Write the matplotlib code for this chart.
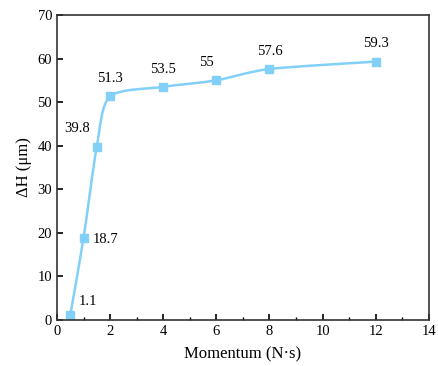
import numpy as np
import matplotlib.pyplot as plt
from matplotlib.path import Path
from matplotlib.patches import PathPatch
from matplotlib.ticker import MultipleLocator

momentum = [0.5, 1, 1.5, 2, 4, 6, 8, 12]
dh = [1.1, 18.7, 39.8, 51.3, 53.5, 55, 57.6, 59.3]
labels = ["1.1", "18.7", "39.8", "51.3", "53.5", "55", "57.6", "59.3"]
offsets = [(13, 5), (16, -1), (-14, 8), (0, 8), (0, 8), (-7, 8), (0, 8), (0, 8)]

plt.rcParams['font.family'] = ['Liberation Serif', 'DejaVu Serif']
color = '#82d0f7'

fig = plt.figure(figsize=(4.38, 3.66), dpi=100)
ax = fig.add_axes([0.130, 0.126, 0.849, 0.833])

# smooth curve through the points (Catmull-Rom as cubic Bezier)
x = np.array(momentum, float)
y = np.array(dh, float)
verts = [(x[0], y[0])]
codes = [Path.MOVETO]
for i in range(len(x) - 1):
    p0 = np.array([x[max(i - 1, 0)], y[max(i - 1, 0)]])
    p1 = np.array([x[i], y[i]])
    p2 = np.array([x[i + 1], y[i + 1]])
    p3 = np.array([x[min(i + 2, len(x) - 1)], y[min(i + 2, len(x) - 1)]])
    c1 = p1 + (p2 - p0) / 6 * 0.8
    c2 = p2 - (p3 - p1) / 6 * 0.8
    verts += [tuple(c1), tuple(c2), tuple(p2)]
    codes += [Path.CURVE4] * 3
ax.add_patch(PathPatch(Path(verts, codes), fill=False, edgecolor=color, lw=1.8))
ax.plot(momentum, dh, ls='none', marker='s', ms=5.5, color=color)

for xi, yi, lab, off in zip(momentum, dh, labels, offsets):
    ax.annotate(lab, (xi, yi), xytext=off, textcoords='offset points',
                ha='center', va='bottom' if off[1] > 2 else 'center', fontsize=10.5)

ax.set_xlim(0, 14)
ax.set_ylim(0, 70)
ax.xaxis.set_major_locator(MultipleLocator(2))
ax.xaxis.set_minor_locator(MultipleLocator(1))
ax.yaxis.set_major_locator(MultipleLocator(10))
ax.tick_params(direction='in', labelsize=10.5, length=4, width=1.2)
ax.tick_params(which='minor', direction='in', length=2.5, width=1)
ax.set_xlabel("Momentum (N·s)", fontsize=12, labelpad=6)
ax.set_ylabel("ΔH (μm)", fontsize=12)
for s in ax.spines.values():
    s.set_linewidth(1.2)
    s.set_color('#333333')

fig.savefig('out.png', dpi=100)
